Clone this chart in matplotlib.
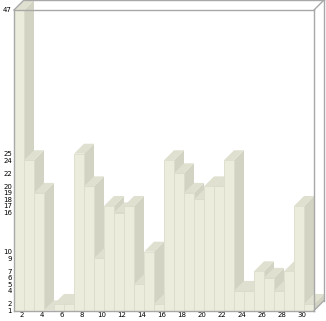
import matplotlib

matplotlib.use("Agg")
import matplotlib.pyplot as plt
from matplotlib.patches import Polygon, Rectangle

# daily counts, one bar per day (2..31)
days = [2, 3, 4, 5, 6, 7, 8, 9, 10, 11, 12, 13, 14, 15, 16,
        17, 18, 19, 20, 21, 22, 23, 24, 25, 26, 27, 28, 29, 30, 31]
counts = [47, 24, 19, 1, 2, 2, 25, 20, 9, 17, 16, 17, 5, 10, 2,
          24, 22, 19, 18, 20, 20, 24, 4, 4, 7, 6, 4, 7, 17, 2]
tick_days = [2, 4, 6, 8, 10, 12, 14, 16, 18, 20, 22, 24, 26, 28, 30]

FRONT = "#ececdc"
SIDE = "#d3d3c3"
TOP = "#e0e0d0"
EDGE = "#dcdccc"
FRAME = "#a8a8a8"

n = len(counts)
base = min(counts)
peak = max(counts)
dx = 1.0   # depth, in bar widths
dy = 1.53  # depth, in value units

fig = plt.figure(figsize=(3.26, 3.21), dpi=100)
ax = fig.add_axes([14 / 326, (321 - 310.5) / 321, 310 / 326, 310.5 / 321])
ax.set_xlim(0, n + dx)
ax.set_ylim(base, peak + dy)

# floor
ax.add_patch(Polygon([(0, base), (n, base), (n + dx, base + dy), (dx, base + dy)],
                     closed=True, facecolor="#eeeeee", edgecolor="none", zorder=1))

for i, v in enumerate(counts):
    ax.add_patch(Polygon([(i + 1, base), (i + 1 + dx, base + dy),
                          (i + 1 + dx, v + dy), (i + 1, v)],
                         closed=True, facecolor=SIDE, edgecolor="none", zorder=2))
    ax.add_patch(Polygon([(i, v), (i + 1, v), (i + 1 + dx, v + dy), (i + dx, v + dy)],
                         closed=True, facecolor=TOP, edgecolor="none", zorder=2))
    ax.add_patch(Rectangle((i, base), 1, v - base, facecolor=FRONT,
                           edgecolor=EDGE, linewidth=0.6, zorder=2))

# box frame
frame = [
    [(0, base), (0, peak)],
    [(0, peak), (n, peak)],
    [(0, peak), (dx, peak + dy)],
    [(dx, peak + dy), (n + dx, peak + dy)],
    [(n, base), (n, peak)],
    [(n, peak), (n + dx, peak + dy)],
    [(n + dx, base + dy), (n + dx, peak + dy)],
    [(0, base), (n, base)],
    [(n, base), (n + dx, base + dy)],
]
for seg in frame:
    xs, ys = zip(*seg)
    ax.plot(xs, ys, color=FRAME, linewidth=1.0, zorder=3, clip_on=False)

ax.set_yticks(sorted(set(counts)))
ax.set_yticklabels([str(v) for v in sorted(set(counts))])
ax.set_xticks([days.index(d) + 0.8 for d in tick_days])
ax.set_xticklabels([str(d) for d in tick_days])
ax.tick_params(axis="both", length=0, labelsize=5, colors="black")
ax.tick_params(axis="y", pad=1.5)
ax.tick_params(axis="x", pad=1.2)
for side in ax.spines.values():
    side.set_visible(False)

fig.savefig("out.png", dpi=100)
